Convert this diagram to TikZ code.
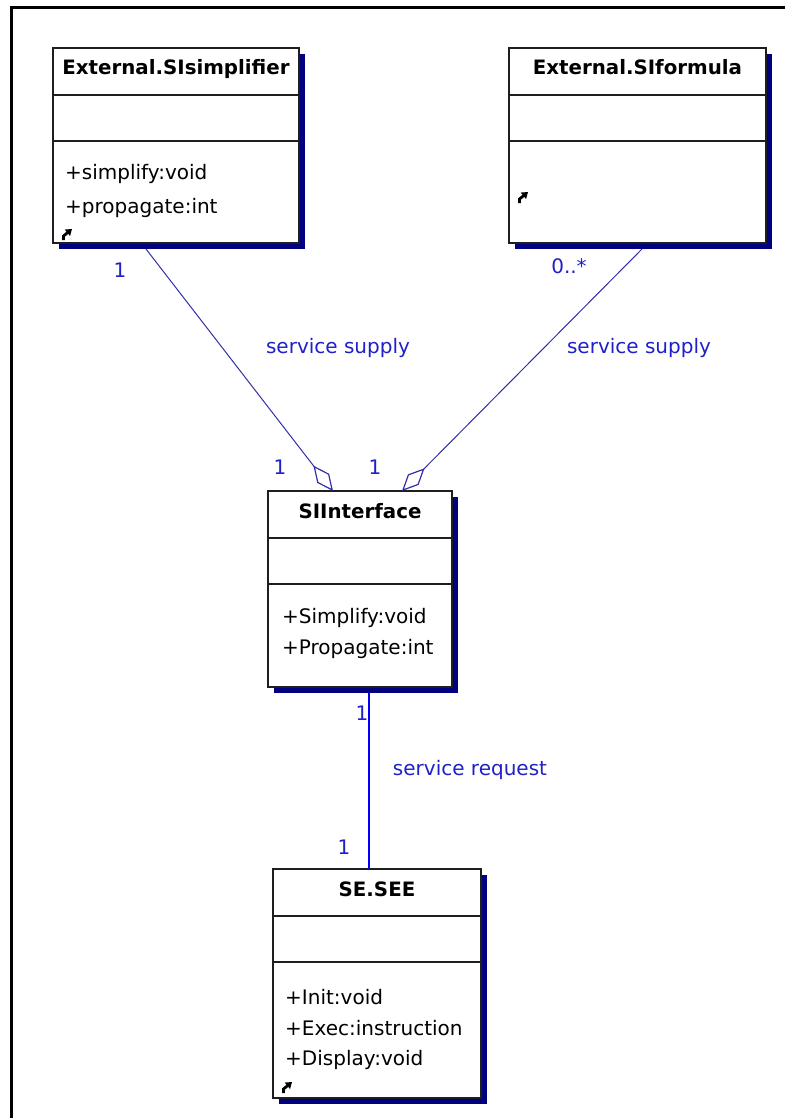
\documentclass[tikz,border=0pt]{standalone}
\usepackage{fontspec}
\setmainfont{DejaVu Sans}
\usetikzlibrary{arrows.meta,shadows}

\definecolor{shadownavy}{RGB}{0,0,128}
\definecolor{linknavy}{RGB}{48,48,168}
\definecolor{linkblue}{RGB}{0,0,255}
\definecolor{labelblue}{RGB}{32,32,200}
\definecolor{boxline}{RGB}{30,30,30}

\begin{document}
\begin{tikzpicture}[x=1pt,y=-1pt,
  classbox/.style={draw=boxline, line width=2pt, fill=white, inner sep=0pt, outer sep=0pt,
    drop shadow={shadow xshift=6pt, shadow yshift=-6pt, fill=shadownavy, opacity=1}},
  sepline/.style={draw=boxline, line width=2pt},
  classtitle/.style={inner sep=0pt, anchor=base, font=\fontsize{19.8}{24}\selectfont\bfseries},
  method/.style={inner sep=0pt, anchor=base west, font=\fontsize{20}{24}\selectfont},
  linklabel/.style={inner sep=0pt, text=labelblue, font=\fontsize{20}{24}\selectfont},
  supply/.style={draw=linknavy, line width=1pt,
    -{Diamond[open, length=32pt, width=15pt, fill=white, line width=1.2pt]}},
  request/.style={draw=linkblue, line width=1.4pt},
  cornermark/.pic={\draw[line width=2.8pt, -{Triangle[length=6pt, width=8pt]}]
    (1.5,0) -- (1.5,-4) -- (10,-11);}
]
\useasboundingbox (0,0) rectangle (785,1118);

% outer frame (top and left edges)
\draw[line width=3.5pt] (785,7.5) -- (11.3,7.5) -- (11.3,1118);

% class boxes
\node[classbox, minimum width=246pt, minimum height=195pt] (b1) at (176,145.5) {};
\node[classbox, minimum width=257pt, minimum height=195pt] (b2) at (637.5,145.5) {};
\node[classbox, minimum width=184pt, minimum height=196pt] (b3) at (360,589) {};
\node[classbox, minimum width=208pt, minimum height=229pt] (b4) at (377,983.5) {};

% compartment separators
\foreach \b in {b1,b2,b3,b4}{
  \draw[sepline] ([yshift=-47pt]\b.north west) -- ([yshift=-47pt]\b.north east);
  \draw[sepline] ([yshift=-93pt]\b.north west) -- ([yshift=-93pt]\b.north east);
}

% class names
\node[classtitle] (b1t) at ([yshift=-27pt]b1.north) {External.SIsimplifier};
\node[classtitle] (b2t) at ([yshift=-27pt]b2.north) {External.SIformula};
\node[classtitle] (b3t) at ([yshift=-27pt]b3.north) {SIInterface};
\node[classtitle] (b4t) at ([yshift=-27pt]b4.north) {SE.SEE};

% operations
\node[method] (b1m1) at ([xshift=12pt, yshift=-132pt]b1.north west) {+simplify:void};
\node[method] (b1m2) at ([xshift=12pt, yshift=-165pt]b1.north west) {+propagate:int};
\node[method] (b3m1) at ([xshift=14pt, yshift=-132pt]b3.north west) {+Simplify:void};
\node[method] (b3m2) at ([xshift=14pt, yshift=-163pt]b3.north west) {+Propagate:int};
\node[method] (b4m1) at ([xshift=12pt, yshift=-135pt]b4.north west) {+Init:void};
\node[method] (b4m2) at ([xshift=12pt, yshift=-166pt]b4.north west) {+Exec:instruction};
\node[method] (b4m3) at ([xshift=12pt, yshift=-196pt]b4.north west) {+Display:void};

% collapsed-compartment marks
\pic at ([shift={(9,-3)}]b1.south west) {cornermark};
\pic at ([shift={(9,-40)}]b2.south west) {cornermark};
\pic at ([shift={(9,-5)}]b4.south west) {cornermark};

% associations
\coordinate (s1) at ([xshift=93pt, yshift=-6pt]b1.south west);
\coordinate (s2) at ([xshift=133pt, yshift=-6pt]b2.south west);
\coordinate (t1) at ([xshift=65pt]b3.north west);
\coordinate (t2) at ([xshift=134pt]b3.north west);
\coordinate (r1) at ([xshift=101pt, yshift=-6pt]b3.south west);
\coordinate (r2) at ([xshift=96pt]b4.north west);

\draw[supply] (s1) -- (t1);
\draw[supply] (s2) -- (t2);
\draw[request] (r1) -- (r2);

% association labels and multiplicities
\node[linklabel] (m1) at (120,270) {1};
\node[linklabel] (a1) at (338,348) {service supply};
\node[linklabel] (m2) at (569,266) {0..*};
\node[linklabel] (a2) at (639,348) {service supply};
\node[linklabel] (m3) at (280,467) {1};
\node[linklabel] (m4) at (375,467) {1};
\node[linklabel] (m5) at (362,713) {1};
\node[linklabel] (a3) at (470,770) {service request};
\node[linklabel] (m6) at (344,847) {1};
\end{tikzpicture}
\end{document}
